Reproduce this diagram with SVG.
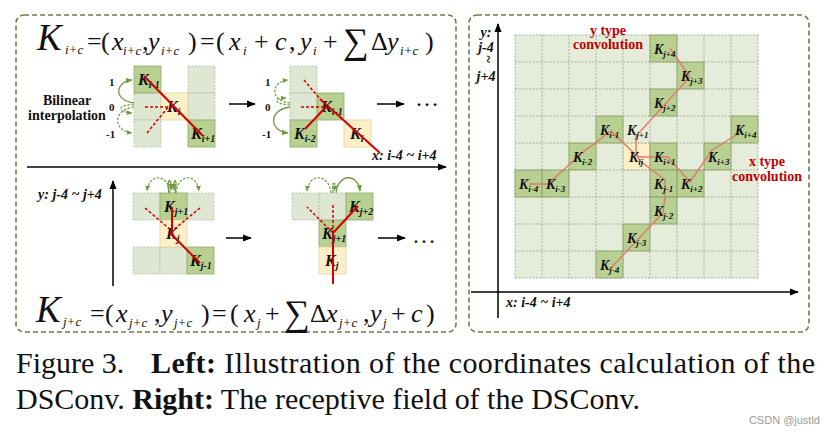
<svg xmlns="http://www.w3.org/2000/svg" width="832" height="433" viewBox="0 0 832 433">
<style>
.panel{fill:none;stroke:#6e7f4b;stroke-width:1.6;stroke-dasharray:5 3}
.lc{fill:#dde7d1;stroke:#b4bcaa;stroke-width:0.8;stroke-dasharray:2 1.5}
.dc{fill:#b8d092;stroke:#8fab69;stroke-width:0.8}
.cc{fill:#fdefc8;stroke:#e2d2a4;stroke-width:0.8}
.k{font-family:"Liberation Serif",serif;font-weight:bold;font-style:italic;font-size:16px;fill:#111}
.ks{font-size:10px}
.rk{font-size:14px}
.rks{font-size:9px}
.ax{stroke:#000;stroke-width:1.5;fill:none}
.lab{font-family:"Liberation Serif",serif;font-weight:bold;font-style:italic;font-size:14px;fill:#111}
.num{font-family:"Liberation Serif",serif;font-weight:bold;font-size:11px;fill:#111}
.red{stroke:#d40000;stroke-width:2;fill:none}
.redd{stroke:#d40000;stroke-width:1.5;stroke-dasharray:3 2;fill:none}
.garc{stroke:#6f9a3e;stroke-width:1.3;fill:none}
.gard{stroke:#6f9a3e;stroke-width:1.2;fill:none;stroke-dasharray:2.5 1.5}
.path2{stroke:#e07a68;stroke-width:1.4;fill:none}
.conv{font-family:"Liberation Serif",serif;font-weight:bold;font-size:14px;fill:#c00000}
.f{font-family:"Liberation Serif",serif;font-size:26px;fill:#111}
.fi{font-style:italic}
.fs{font-size:13px;font-style:italic}
.cap{font-family:"Liberation Serif",serif;font-size:30px;fill:#111}
.b{font-weight:bold}
</style>
<defs>
<marker id="ah" viewBox="0 0 10 10" refX="9" refY="5" markerWidth="6" markerHeight="6" orient="auto"><path d="M0,1 L10,5 L0,9 z" fill="#000"/></marker>
<marker id="gh" viewBox="0 0 10 10" refX="9" refY="5" markerWidth="5" markerHeight="5" orient="auto"><path d="M0,1 L10,5 L0,9 z" fill="#6f9a3e"/></marker>
</defs>

<rect width="832" height="433" fill="#fff"/>

<!-- panels -->
<rect class="panel" x="16" y="15" width="440" height="317" rx="8"/>
<rect class="panel" x="469" y="15" width="340" height="317" rx="8"/>

<!-- Top formula -->
<text class="f" y="50">
<tspan x="37" font-size="37" class="fi">K</tspan><tspan x="65" y="54" class="fs">i+c</tspan><tspan x="87" y="50">=</tspan><tspan x="101">(</tspan><tspan x="112" class="fi">x</tspan><tspan x="123" y="55" class="fs">i+c</tspan><tspan x="142" y="50">,</tspan><tspan x="148" class="fi">y</tspan><tspan x="161" y="55" class="fs">i+c</tspan><tspan x="188" y="50">)</tspan><tspan x="200">=</tspan><tspan x="216">(</tspan><tspan x="229" class="fi">x</tspan><tspan x="243" y="55" class="fs">i</tspan><tspan x="254" y="50">+</tspan><tspan x="275" class="fi">c</tspan><tspan x="289">,</tspan><tspan x="300" class="fi">y</tspan><tspan x="313" y="55" class="fs">i</tspan><tspan x="323" y="50">+</tspan><tspan x="343" y="53" font-size="36">∑</tspan><tspan x="371" y="50">Δ</tspan><tspan x="387" class="fi">y</tspan><tspan x="400" y="55" class="fs">i+c</tspan><tspan x="425" y="50">)</tspan>
</text>

<!-- Bottom formula -->
<text class="f" y="322">
<tspan x="36" font-size="37" class="fi">K</tspan><tspan x="63" y="326" class="fs">j+c</tspan><tspan x="90" y="322">=</tspan><tspan x="105">(</tspan><tspan x="116" class="fi">x</tspan><tspan x="129" y="327" class="fs">j+c</tspan><tspan x="154" y="322">,</tspan><tspan x="161" class="fi">y</tspan><tspan x="174" y="327" class="fs">j+c</tspan><tspan x="201" y="322">)</tspan><tspan x="212">=</tspan><tspan x="230">(</tspan><tspan x="244" class="fi">x</tspan><tspan x="257" y="327" class="fs">j</tspan><tspan x="265" y="322">+</tspan><tspan x="284" y="325" font-size="36">∑</tspan><tspan x="310" y="322">Δ</tspan><tspan x="326" class="fi">x</tspan><tspan x="339" y="327" class="fs">j+c</tspan><tspan x="363" y="322">,</tspan><tspan x="370" class="fi">y</tspan><tspan x="383" y="327" class="fs">j</tspan><tspan x="391" y="322">+</tspan><tspan x="411" class="fi">c</tspan><tspan x="426">)</tspan>
</text>

<!-- Left-top group 1 -->
<g id="lt1-cells">
<rect class="lc" x="134" y="93" width="27" height="27"/>
<rect class="lc" x="134" y="120" width="27" height="27"/>
<rect class="lc" x="188" y="66" width="27" height="27"/>
<rect class="lc" x="188" y="93" width="27" height="27"/>
</g>
<g id="lt1-Kim1"><rect class="dc" x="134" y="66" width="27" height="27"/><text class="k" x="138" y="85">K<tspan class="ks" dy="3">i-1</tspan></text></g>
<g id="lt1-Ki"><rect class="cc" x="161" y="93" width="27" height="27"/><text class="k" x="167" y="112">K<tspan class="ks" dy="3">i</tspan></text></g>
<g id="lt1-Kip1"><rect class="dc" x="188" y="120" width="27" height="27"/><text class="k" x="191" y="139">K<tspan class="ks" dy="3">i+1</tspan></text></g>

<!-- Left-top group 2 -->
<g id="lt2-cells">
<rect class="lc" x="290" y="66" width="27" height="27"/>
<rect class="lc" x="290" y="93" width="27" height="27"/>
</g>
<g id="lt2-Kim2"><rect class="dc" x="290" y="120" width="27" height="27"/><text class="k" x="294" y="139">K<tspan class="ks" dy="3">i-2</tspan></text></g>
<g id="lt2-Kim1"><rect class="dc" x="317" y="93" width="27" height="27"/><text class="k" x="321" y="112">K<tspan class="ks" dy="3">i-1</tspan></text></g>
<g id="lt2-Ki"><rect class="cc" x="344" y="120" width="27" height="27"/><text class="k" x="350" y="139">K<tspan class="ks" dy="3">i</tspan></text></g>

<!-- Left-bottom group 1 -->
<g id="lb1-cells">
<rect class="lc" x="133" y="193" width="27" height="27"/>
<rect class="lc" x="187" y="193" width="27" height="27"/>
<rect class="lc" x="133" y="247" width="27" height="27"/>
<rect class="lc" x="160" y="247" width="27" height="27"/>
</g>
<g id="lb1-Kjp1"><rect class="dc" x="160" y="193" width="27" height="27"/><text class="k" x="164" y="212">K<tspan class="ks" dy="3">j+1</tspan></text></g>
<g id="lb1-Kj"><rect class="cc" x="160" y="220" width="27" height="27"/><text class="k" x="166" y="239">K<tspan class="ks" dy="3">j</tspan></text></g>
<g id="lb1-Kjm1"><rect class="dc" x="187" y="247" width="27" height="27"/><text class="k" x="190" y="266">K<tspan class="ks" dy="3">j-1</tspan></text></g>

<!-- Left-bottom group 2 -->
<g id="lb2-cells">
<rect class="lc" x="292" y="193" width="27" height="27"/>
<rect class="lc" x="319" y="193" width="27" height="27"/>
</g>
<g id="lb2-Kjp2"><rect class="dc" x="346" y="193" width="27" height="27"/><text class="k" x="349" y="212">K<tspan class="ks" dy="3">j+2</tspan></text></g>
<g id="lb2-Kjp1"><rect class="dc" x="319" y="220" width="27" height="27"/><text class="k" x="322" y="239">K<tspan class="ks" dy="3">j+1</tspan></text></g>
<g id="lb2-Kj"><rect class="cc" x="319" y="247" width="27" height="27"/><text class="k" x="325" y="266">K<tspan class="ks" dy="3">j</tspan></text></g>

<!-- Left labels -->
<g id="left-labels">
<text class="num" x="109" y="86">1</text>
<text class="num" x="109" y="111">0</text>
<text class="num" x="106" y="138">-1</text>
<text class="num" x="265" y="86">1</text>
<text class="num" x="265" y="111">0</text>
<text class="num" x="262" y="138">-1</text>
<text font-family="Liberation Serif, serif" font-weight="bold" font-size="14" fill="#111" text-anchor="middle"><tspan x="67" y="105">Bilinear</tspan><tspan x="67" y="120">interpolation</tspan></text>
<text class="lab" x="372" y="160">x: i-4 ~ i+4</text>
<text class="lab" x="38" y="199" font-size="13.5">y: j-4 ~ j+4</text>
<text font-family="Liberation Serif, serif" font-size="24" fill="#111" x="415" y="106">…</text>
<text font-family="Liberation Serif, serif" font-size="24" fill="#111" x="412" y="243">…</text>
</g>

<!-- connectors -->
<g id="connectors">
<line class="ax" x1="27" y1="167" x2="446" y2="167" marker-end="url(#ah)"/>
<line class="ax" x1="113" y1="286" x2="113" y2="181" marker-end="url(#ah)"/>
<line class="ax" x1="229" y1="104" x2="255" y2="104" marker-end="url(#ah)"/>
<line class="ax" x1="377" y1="104" x2="404" y2="104" marker-end="url(#ah)"/>
<line class="ax" x1="226" y1="238" x2="251" y2="238" marker-end="url(#ah)"/>
<line class="ax" x1="378" y1="238" x2="405" y2="238" marker-end="url(#ah)"/>

<line class="red" x1="144" y1="76" x2="203" y2="136"/>
<line class="redd" x1="145" y1="107" x2="172" y2="107"/>
<line class="redd" x1="147" y1="133" x2="169" y2="106"/>
<line class="redd" x1="304" y1="80" x2="320" y2="99"/>
<line class="red" x1="320" y1="99" x2="380" y2="153"/>
<line class="red" x1="305" y1="129" x2="326" y2="107"/>
<line class="redd" x1="301" y1="107" x2="326" y2="107"/>
<line class="red" x1="172" y1="207" x2="172" y2="236"/>
<line class="red" x1="170" y1="233" x2="200" y2="263"/>
<line class="redd" x1="145" y1="208" x2="172" y2="231"/>
<line class="redd" x1="200" y1="208" x2="172" y2="231"/>
<line class="red" x1="333" y1="233" x2="333" y2="284"/>
<line class="red" x1="333" y1="233" x2="358" y2="206"/>
<line class="redd" x1="333" y1="233" x2="333" y2="204"/>
<line class="redd" x1="333" y1="233" x2="307" y2="207"/>

<path class="garc" d="M134,103 C114,101 114,82 132,80" marker-end="url(#gh)"/>
<path class="gard" d="M134,105 C118,104 116,112 132,113" marker-end="url(#gh)"/>
<path class="gard" d="M134,107 C112,110 113,131 132,133" marker-end="url(#gh)"/>
<path class="gard" d="M290,103 C270,101 270,82 288,80" marker-end="url(#gh)"/>
<path class="gard" d="M290,105 C274,104 272,98 286,98" marker-end="url(#gh)"/>
<path class="garc" d="M290,107 C268,110 269,131 288,133" marker-end="url(#gh)"/>
<path class="gard" d="M170,193 C168,173 149,173 147,191" marker-end="url(#gh)"/>
<path class="gard" d="M176,193 C178,173 197,173 199,191" marker-end="url(#gh)"/>
<path class="garc" d="M169,193 C166,178 172,176 171,190" marker-end="url(#gh)"/>
<path class="garc" d="M175,193 C178,178 173,176 174,190" marker-end="url(#gh)"/>
<path class="gard" d="M331,193 C329,173 309,173 307,191" marker-end="url(#gh)"/>
<path class="gard" d="M333,193 C331,180 337,178 334,191" marker-end="url(#gh)"/>
<path class="garc" d="M336,193 C338,173 358,173 360,191" marker-end="url(#gh)"/>

<line class="ax" x1="498" y1="318" x2="498" y2="24" marker-end="url(#ah)"/>
<line class="ax" x1="471" y1="292" x2="798" y2="292" marker-end="url(#ah)"/>
</g>

<!-- right grid -->
<g id="grid">
<rect x="515" y="35" width="243" height="243" fill="#e5edda"/>
<rect class="dc" x="650" y="35" width="27" height="27"/>
<rect class="dc" x="677" y="62" width="27" height="27"/>
<rect class="dc" x="650" y="89" width="27" height="27"/>
<rect class="dc" x="596" y="116" width="27" height="27"/>
<rect class="dc" x="731" y="116" width="27" height="27"/>
<rect class="dc" x="569" y="143" width="27" height="27"/>
<rect class="cc" x="623" y="143" width="27" height="27"/>
<rect class="dc" x="650" y="143" width="27" height="27"/>
<rect class="dc" x="704" y="143" width="27" height="27"/>
<rect class="dc" x="515" y="170" width="27" height="27"/>
<rect class="dc" x="542" y="170" width="27" height="27"/>
<rect class="dc" x="650" y="170" width="27" height="27"/>
<rect class="dc" x="677" y="170" width="27" height="27"/>
<rect class="dc" x="650" y="197" width="27" height="27"/>
<rect class="dc" x="623" y="224" width="27" height="27"/>
<rect class="dc" x="596" y="251" width="27" height="27"/>
<path d="M515,35V278M542,35V278M569,35V278M596,35V278M623,35V278M650,35V278M677,35V278M704,35V278M731,35V278M758,35V278M515,35H758M515,62H758M515,89H758M515,116H758M515,143H758M515,170H758M515,197H758M515,224H758M515,251H758M515,278H758" stroke="#8c9880" stroke-width="0.7" stroke-dasharray="2 1.5" fill="none"/>
</g>

<g id="right-connectors">
<path class="path2" d="M529,184 L548,184 L582,153 L611,131 L638,157 L668,157 L690,182 L712,150 L741,132"/>
<path class="path2" d="M609,270 L663,213 L665,197 L665,180 L639,160 L636,150 L636,136 L690,77 L670,48"/>
</g>

<g id="right-nodes">
<g id="K_j4"><text class="k rk" x="654" y="54">K<tspan class="rks" dy="3">j+4</tspan></text></g>
<g id="K_j3"><text class="k rk" x="681" y="81">K<tspan class="rks" dy="3">j+3</tspan></text></g>
<g id="K_j2"><text class="k rk" x="654" y="108">K<tspan class="rks" dy="3">j+2</tspan></text></g>
<g id="K_im1"><text class="k rk" x="600" y="135">K<tspan class="rks" dy="3">i-1</tspan></text></g>
<g id="K_jp1"><text class="k rk" x="627" y="135">K<tspan class="rks" dy="3">j+1</tspan></text></g>
<g id="K_ip4"><text class="k rk" x="735" y="135">K<tspan class="rks" dy="3">i+4</tspan></text></g>
<g id="K_im2"><text class="k rk" x="573" y="162">K<tspan class="rks" dy="3">i-2</tspan></text></g>
<g id="K_ij"><text class="k rk" x="629" y="162">K<tspan class="rks" dy="3">ij</tspan></text></g>
<g id="K_ip1"><text class="k rk" x="654" y="162">K<tspan class="rks" dy="3">i+1</tspan></text></g>
<g id="K_ip3"><text class="k rk" x="708" y="162">K<tspan class="rks" dy="3">i+3</tspan></text></g>
<g id="K_im4"><text class="k rk" x="519" y="189">K<tspan class="rks" dy="3">i-4</tspan></text></g>
<g id="K_im3"><text class="k rk" x="546" y="189">K<tspan class="rks" dy="3">i-3</tspan></text></g>
<g id="K_jm1"><text class="k rk" x="654" y="189">K<tspan class="rks" dy="3">j-1</tspan></text></g>
<g id="K_ip2"><text class="k rk" x="681" y="189">K<tspan class="rks" dy="3">i+2</tspan></text></g>
<g id="K_jm2"><text class="k rk" x="654" y="216">K<tspan class="rks" dy="3">j-2</tspan></text></g>
<g id="K_jm3"><text class="k rk" x="627" y="243">K<tspan class="rks" dy="3">j-3</tspan></text></g>
<g id="K_jm4"><text class="k rk" x="600" y="270">K<tspan class="rks" dy="3">j-4</tspan></text></g>
</g>

<g id="right-labels">
<text class="conv" text-anchor="middle"><tspan x="608" y="35">y type</tspan><tspan x="608" y="49">convolution</tspan></text>
<text class="conv" text-anchor="middle"><tspan x="767" y="166">x type</tspan><tspan x="767" y="181">convolution</tspan></text>
<text class="lab" text-anchor="middle"><tspan x="486" y="37">y:</tspan><tspan x="486" y="52">j-4</tspan><tspan x="486" y="81">j+4</tspan></text>
<text class="lab" x="486" y="62" font-size="10" text-anchor="middle" transform="rotate(90 486 59)">~</text>
<text class="lab" x="506" y="307">x: i-4 ~ i+4</text>
</g>

<!-- caption -->
<g id="caption">
<text class="cap" x="16" y="373">Figure 3.</text>
<text class="cap" x="151" y="373" textLength="664" lengthAdjust="spacing"><tspan class="b">Left:</tspan> Illustration of the coordinates calculation of the</text>
<text class="cap" x="16" y="409" textLength="624" lengthAdjust="spacing">DSConv. <tspan class="b">Right:</tspan> The receptive field of the DSConv.</text>
<text x="820" y="424" text-anchor="end" font-family="Liberation Sans, sans-serif" font-size="11" fill="#9a9a9a">CSDN @justld</text>
</g>
</svg>
